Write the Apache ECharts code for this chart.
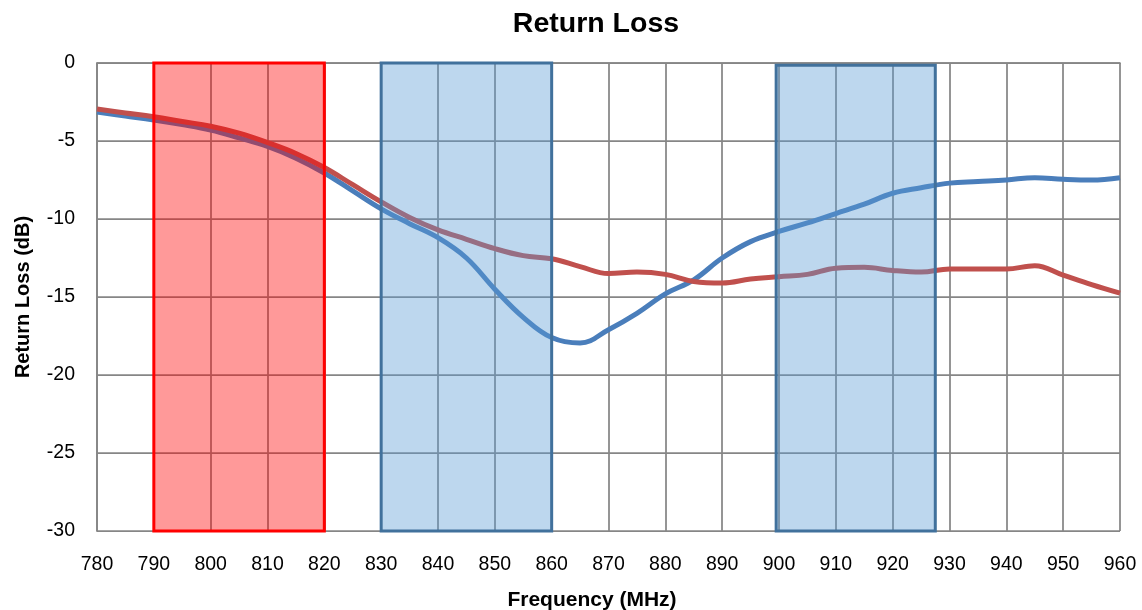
<!DOCTYPE html>
<html>
<head>
<meta charset="utf-8">
<script src="https://cdn.jsdelivr.net/npm/echarts@6/dist/echarts.min.js"></script>
<style>html,body{margin:0;padding:0;background:#fff}#c{width:1142px;height:610px}</style>
</head>
<body>
<div id="c"></div>
<script>
var freqs = [780,785,790,795,800,805,810,815,820,825,830,835,840,845,850,855,860,865,870,875,880,885,890,895,900,905,910,915,920,925,930,935,940,945,950,955,960];
var blueLoss = [-3.15,-3.4,-3.65,-3.95,-4.3,-4.8,-5.35,-6.1,-7.05,-8.2,-9.35,-10.3,-11.2,-12.5,-14.5,-16.3,-17.6,-17.95,-17.1,-16.05,-14.8,-13.9,-12.5,-11.45,-10.8,-10.25,-9.65,-9.05,-8.35,-8.0,-7.7,-7.6,-7.5,-7.35,-7.45,-7.5,-7.35];
var redLoss = [-2.95,-3.2,-3.45,-3.75,-4.05,-4.5,-5.1,-5.8,-6.7,-7.8,-8.9,-9.9,-10.7,-11.3,-11.9,-12.35,-12.55,-13.05,-13.5,-13.4,-13.55,-14.0,-14.1,-13.85,-13.7,-13.55,-13.15,-13.1,-13.3,-13.4,-13.2,-13.2,-13.2,-13.0,-13.6,-14.2,-14.75];
// bands: [startMHz, endMHz, top dB, bottom dB, kind]
var bandStart = [790, 830, 899.5];
var bandEnd = [820, 860, 927.5];
var bandTop = [0, 0, -0.15];
var bandBottom = [-30, -30, -30];
var bandKind = ['red', 'blue', 'blue'];
var xTicks = {min: 780, max: 960, interval: 10};
var yTicks = {min: -30, max: 0, interval: 5};

function pairs(xs, ys){ return xs.map(function(x,i){ return [x, ys[i]]; }); }
var bandData = bandStart.map(function(s,i){ return [s, bandEnd[i], bandTop[i], bandBottom[i], bandKind[i]]; });

var styles = {
  red: {fill: 'rgba(255,0,0,0.4)', stroke: '#FF0000'},
  blue: {fill: 'rgba(91,155,213,0.4)', stroke: '#41719C'}
};

var chart = echarts.init(document.getElementById('c'));
var font = 'Liberation Sans, Arial, sans-serif';
chart.setOption({
  animation: false,
  backgroundColor: '#fff',
  title: {
    text: 'Return Loss', left: 591, textAlign: 'center', top: 5,
    textStyle: {fontFamily: font, fontSize: 28.5, fontWeight: 'bold', color: '#000'}
  },
  grid: {left: 97, right: 22, top: 63, bottom: 79, containLabel: false, outerBoundsMode: 'none'},
  xAxis: {
    type: 'value', min: xTicks.min, max: xTicks.max, interval: xTicks.interval,
    name: 'Frequency (MHz)', nameLocation: 'middle', nameGap: 59,
    nameTextStyle: {fontFamily: font, fontSize: 21, fontWeight: 'bold', color: '#000', padding: [0, 33, 0, 0]},
    axisLine: {show: true, lineStyle: {color: '#868686', width: 1.75}},
    axisTick: {show: false},
    axisLabel: {fontFamily: font, fontSize: 19.5, color: '#000', margin: 24},
    splitLine: {show: true, lineStyle: {color: '#868686', width: 1.75}}
  },
  yAxis: {
    type: 'value', min: yTicks.min, max: yTicks.max, interval: yTicks.interval,
    name: 'Return Loss (dB)', nameLocation: 'middle', nameGap: 64, nameRotate: 90,
    nameTextStyle: {fontFamily: font, fontSize: 20, fontWeight: 'bold', color: '#000'},
    axisLine: {show: true, lineStyle: {color: '#868686', width: 1.75}},
    axisTick: {show: false},
    axisLabel: {fontFamily: font, fontSize: 19.5, color: '#000', margin: 22},
    splitLine: {show: true, lineStyle: {color: '#868686', width: 1.75}}
  },
  series: [
    {
      type: 'line', name: 'Blue', data: pairs(freqs, blueLoss), smooth: 0.4,
      showSymbol: false, symbol: 'none', z: 2,
      lineStyle: {color: '#4A7EBB', width: 5}
    },
    {
      type: 'line', name: 'Red', data: pairs(freqs, redLoss), smooth: 0.4,
      showSymbol: false, symbol: 'none', z: 3,
      lineStyle: {color: '#C0504D', width: 5}
    },
    {
      type: 'custom', name: 'Bands', z: 5,
      data: bandData,
      encode: {x: [0, 1], y: [2, 3]},
      renderItem: function(params, api){
        var p1 = api.coord([api.value(0), api.value(2)]);
        var p2 = api.coord([api.value(1), api.value(3)]);
        var st = styles[bandData[params.dataIndex][4]];
        return {
          type: 'rect',
          shape: {x: p1[0], y: p1[1], width: p2[0] - p1[0], height: p2[1] - p1[1]},
          style: {fill: st.fill, stroke: st.stroke, lineWidth: 3}
        };
      }
    }
  ]
});
</script>
</body>
</html>
